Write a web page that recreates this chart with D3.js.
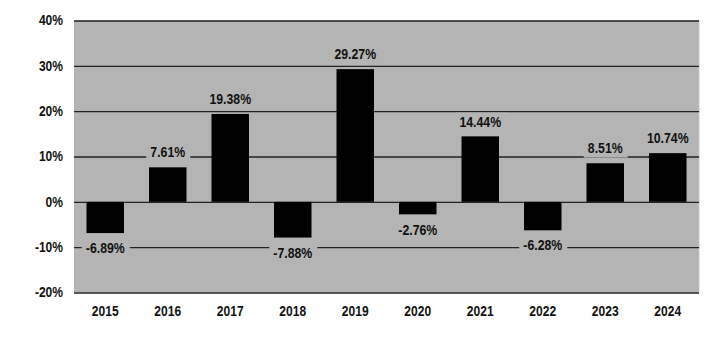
<!DOCTYPE html>
<html><head><meta charset="utf-8">
<script src="https://cdn.jsdelivr.net/npm/d3@7"></script>
<style>
body{margin:0;background:#fff;}
text{font-family:"Liberation Sans",Arial,sans-serif;font-weight:bold;fill:#111;}
</style></head>
<body><svg id="c" width="721" height="338"></svg>
<script>
const years = ["2015","2016","2017","2018","2019","2020","2021","2022","2023","2024"];
const returns = [-6.89, 7.61, 19.38, -7.88, 29.27, -2.76, 14.44, -6.28, 8.51, 10.74];
const yTicks = [-20, -10, 0, 10, 20, 30, 40];

const SX = 0.86;
const svg = d3.select("#c");
const L = 74, R = 699, T = 20.5, B = 292.5;
const x = d3.scaleBand().domain(years).range([L, R]).paddingInner(0.4).paddingOuter(0.2);
const y = d3.scaleLinear().domain([-20, 40]).range([B, T]);

svg.append("rect").attr("x", L).attr("y", T).attr("width", R - L).attr("height", B - T).attr("fill", "#b4b4b4");
svg.append("line").attr("x1", R).attr("x2", R).attr("y1", T).attr("y2", B).attr("stroke", "#c9c9c9").attr("stroke-width", 1);

const yAxis = d3.axisLeft(y).tickValues(yTicks).tickFormat(d => d + "%").tickSize(-(R - L)).tickPadding(11);
const gy = svg.append("g").attr("transform", `translate(${L},0)`).call(yAxis);
gy.select(".domain").remove();
gy.selectAll(".tick line").attr("stroke", "#222").attr("stroke-width", 1.3);
gy.selectAll(".tick text").attr("font-size", 14).attr("fill", "#111")
  .attr("x", -11 / SX).attr("transform", `scale(${SX},1)`);

const xAxis = d3.axisBottom(x).tickSize(0).tickPadding(14);
const gx = svg.append("g").attr("transform", `translate(0,${B})`).call(xAxis);
gx.select(".domain").remove();
gx.selectAll(".tick text").attr("font-size", 14).attr("fill", "#111").attr("transform", `scale(${SX},1)`);

svg.append("g").selectAll("rect").data(years).join("rect")
  .attr("x", d => x(d))
  .attr("width", x.bandwidth())
  .attr("y", (d, i) => y(Math.max(0, returns[i])))
  .attr("height", (d, i) => Math.abs(y(returns[i]) - y(0)))
  .attr("fill", "#000");

const lab = svg.append("g").selectAll("g").data(years).join("g")
  .attr("transform", (d, i) => `translate(${x(d) + x.bandwidth() / 2},${y(returns[i]) + (returns[i] >= 0 ? -15 : 15)})`);
lab.append("text")
  .attr("text-anchor", "middle").attr("dy", "0.36em").attr("font-size", 14.3)
  .attr("transform", `scale(${SX},1)`)
  .text((d, i) => returns[i].toFixed(2) + "%");
lab.each(function () {
  const g = d3.select(this);
  const bb = g.select("text").node().getBBox();
  const w = bb.width * SX;
  g.insert("rect", "text").attr("x", -w / 2 - 4).attr("y", bb.y - 1).attr("width", w + 9).attr("height", bb.height + 2).attr("fill", "#b4b4b4");
});
</script></body></html>
